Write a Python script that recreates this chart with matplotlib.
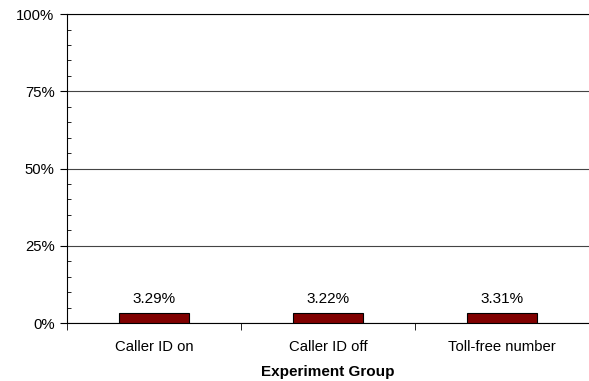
import matplotlib.pyplot as plt
from matplotlib.ticker import MultipleLocator, FixedLocator, PercentFormatter

plt.rcParams['font.family'] = ['Liberation Sans', 'DejaVu Sans']

groups = ['Caller ID on', 'Caller ID off', 'Toll-free number']
rates = [3.29, 3.22, 3.31]
labels = ['3.29%', '3.22%', '3.31%']

fig = plt.figure(figsize=(5.89, 3.81), dpi=100)
ax = fig.add_axes([0.1138, 0.152, 0.886, 0.811])

x = list(range(len(groups)))
bars = ax.bar(x, rates, width=0.4, color='#800000', edgecolor='black', linewidth=0.8, zorder=3)
for xi, v, lab in zip(x, rates, labels):
    ax.text(xi, v + 2.3, lab, ha='center', va='bottom', fontsize=11)

ax.set_xlim(-0.5, 2.5)
ax.set_ylim(0, 100)
ax.yaxis.set_major_locator(MultipleLocator(25))
ax.yaxis.set_minor_locator(MultipleLocator(5))
ax.yaxis.set_major_formatter(PercentFormatter(decimals=0))
ax.grid(axis='y', which='major', color='#444444', linewidth=0.8, zorder=0)

ax.set_xticks(x)
ax.set_xticklabels(groups, fontsize=10.7)
ax.xaxis.set_minor_locator(FixedLocator([-0.5, 0.5, 1.5, 2.5]))
ax.tick_params(axis='x', which='major', length=0, pad=12)
ax.tick_params(axis='x', which='minor', length=5, direction='out')
ax.tick_params(axis='y', which='major', length=5, direction='out', labelsize=10.7, pad=4)
ax.tick_params(axis='y', which='minor', length=3, direction='in')

ax.spines['right'].set_visible(False)
ax.spines['top'].set_linewidth(0.8)
ax.set_xlabel('Experiment Group', fontsize=11, fontweight='bold', labelpad=8)

fig.savefig('out.png', dpi=100)
